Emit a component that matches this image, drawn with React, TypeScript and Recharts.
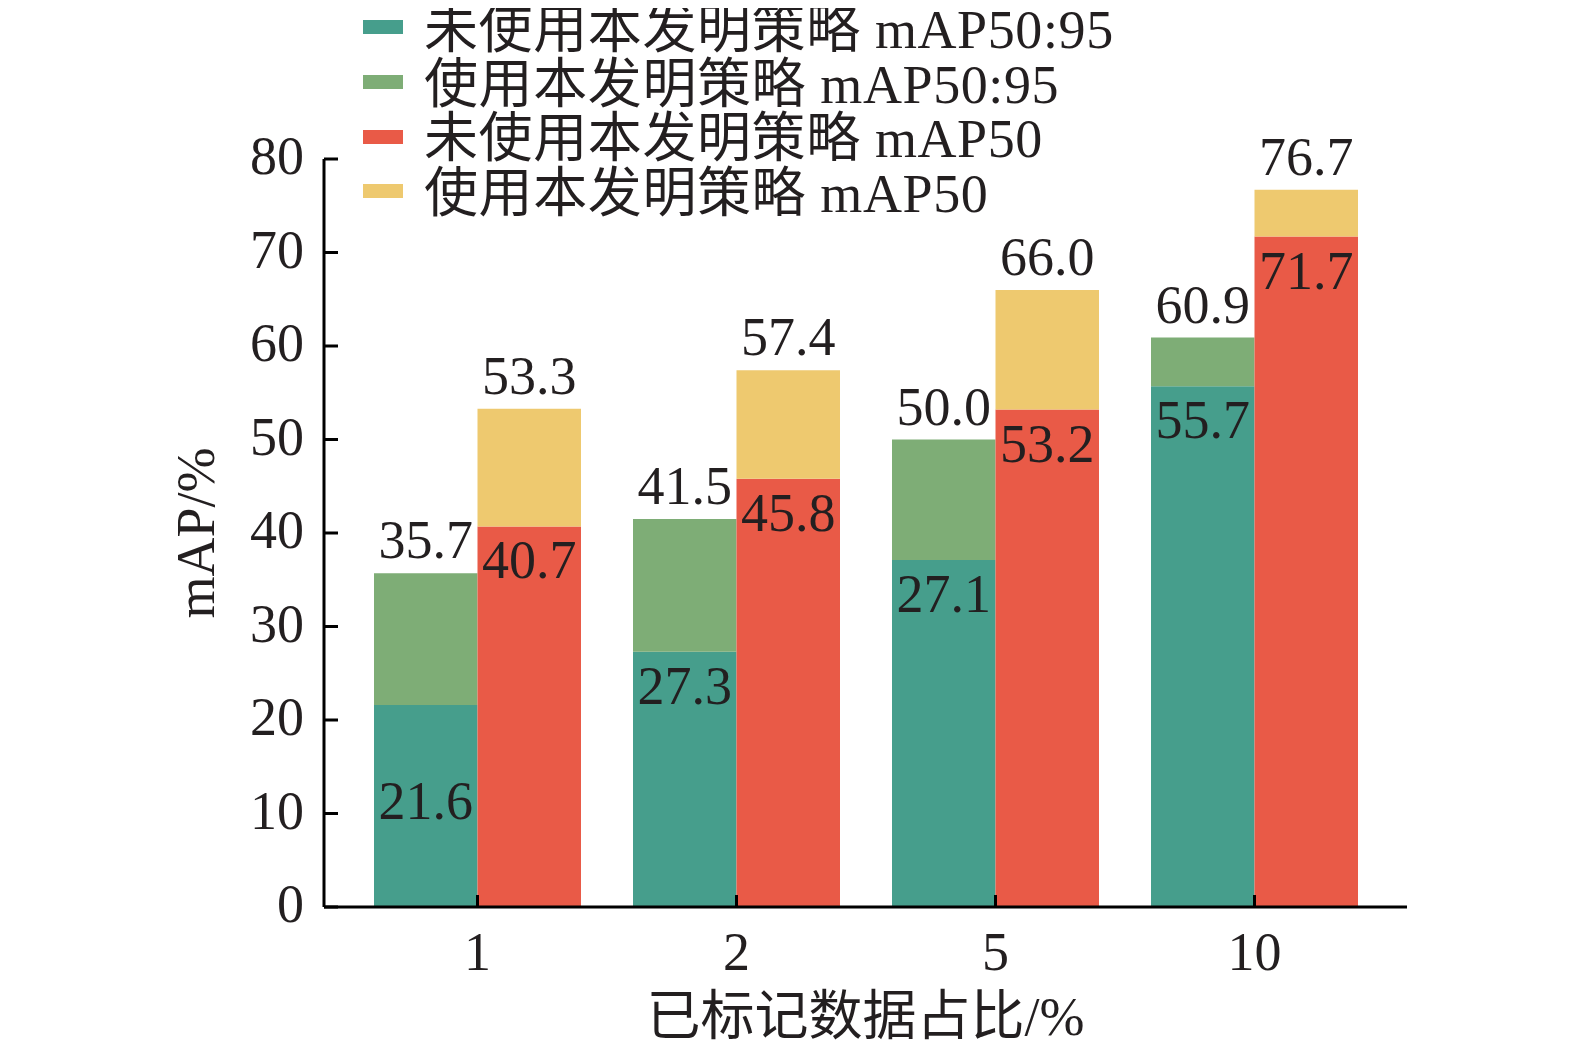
import React from 'react';
import { BarChart, Bar, XAxis, YAxis, Legend, LabelList, Label } from 'recharts';

const ratios = ['1', '2', '5', '10'];
const baseMap5095 = [21.6, 27.3, 37.1, 55.7];
// the source prints 27.1 on the 5% bar, although the bar itself stands at about 37
const baseMap5095Text = ['21.6', '27.3', '27.1', '55.7'];
const oursMap5095 = [35.7, 41.5, 50.0, 60.9];
const baseMap50 = [40.7, 45.8, 53.2, 71.7];
const oursMap50 = [53.3, 57.4, 66.0, 76.7];
const yTicks = [0, 10, 20, 30, 40, 50, 60, 70, 80];

const seriesNames = [
    '未使用本发明策略 mAP50:95',
    '使用本发明策略 mAP50:95',
    '未使用本发明策略 mAP50',
    '使用本发明策略 mAP50',
];
const seriesColors = ['#469E8C', '#7EAD76', '#E95A47', '#EEC96F'];

const FONT = "'Liberation Serif', 'Noto Sans CJK SC', serif";
const INK = '#231F20';
const FS = 54;

const rows = ratios.map((ratio, i) => ({
    ratio,
    base5095: baseMap5095[i],
    gain5095: +(oursMap5095[i] - baseMap5095[i]).toFixed(1),
    base50: baseMap50[i],
    gain50: +(oursMap50[i] - baseMap50[i]).toFixed(1),
    base5095Text: baseMap5095Text[i],
    ours5095: oursMap5095[i].toFixed(1),
    ours50: oursMap50[i].toFixed(1),
}));

// the 1% teal label sits much lower in the source than the others
const firstTealDrop = 62;

const insideLabel = (dropFirst: number) => (props: any) => {
    const vb = props.viewBox ?? props;
    const { x, y, width } = vb;
    const drop = props.index === 0 ? dropFirst : 0;
    return (
        <text x={x + width / 2} y={y + 52 + drop} textAnchor="middle" fontSize={FS} fontFamily={FONT} fill={INK}>
            {props.value}
        </text>
    );
};

const topLabel = (props: any) => {
    const vb = props.viewBox ?? props;
    const { x, y, width } = vb;
    return (
        <text x={x + width / 2} y={y - 15} textAnchor="middle" fontSize={FS} fontFamily={FONT} fill={INK}>
            {props.value}
        </text>
    );
};

const YTick = ({ x, y, payload }: any) => (
    <g>
        <line x1={x} x2={x + 14} y1={y} y2={y} stroke="#000" strokeWidth={3} />
        <text x={x - 20} y={y + 15} textAnchor="end" fontSize={FS} fontFamily={FONT} fill={INK}>
            {payload.value}
        </text>
    </g>
);

const XTick = ({ x, y, payload }: any) => (
    <g>
        <line x1={x} x2={x} y1={y} y2={y - 12} stroke="#000" strokeWidth={3} />
        <text x={x} y={y + 63} textAnchor="middle" fontSize={FS} fontFamily={FONT} fill={INK}>
            {payload.value}
        </text>
    </g>
);

const renderLegend = () => (
    <div style={{ fontFamily: FONT, fontSize: FS, color: INK, paddingTop: 3 }}>
        {seriesNames.map((name, i) => (
            <div key={name} style={{ display: 'flex', alignItems: 'center', height: 54.7, lineHeight: '54.7px', whiteSpace: 'nowrap' }}>
                <span style={{ display: 'inline-block', width: 40, height: 14, background: seriesColors[i], marginRight: 21, position: 'relative', top: -3 }} />
                <span style={{ letterSpacing: 0.6 }}>{name}</span>
            </div>
        ))}
    </div>
);

const yTitle = ({ viewBox }: any) => {
    const cx = viewBox.x + 30;
    const cy = viewBox.y + viewBox.height / 2;
    return (
        <text x={cx} y={cy} transform={`rotate(-90, ${cx}, ${cy})`} textAnchor="middle" fontSize={FS} fontFamily={FONT} fill={INK}>
            mAP/%
        </text>
    );
};

export default function App() {
    return (
        <div style={{ margin: -8, width: 1575, height: 1052, background: '#fff', overflow: 'hidden' }}>
            <BarChart
                width={1575}
                height={1052}
                data={rows}
                margin={{ top: 159, right: 168, bottom: 0, left: 184 }}
                barGap={0}
                barSize={103.5}
            >
                <XAxis
                    dataKey="ratio"
                    height={145}
                    padding={{ left: 24, right: 23 }}
                    axisLine={{ stroke: '#000', strokeWidth: 3 }}
                    tickLine={false}
                    tickSize={0}
                    tickMargin={0}
                    tick={<XTick />}
                    interval={0}
                >
                    <Label
                        value="已标记数据占比/%"
                        position="insideBottom"
                        offset={17}
                        style={{ fontSize: FS, fontFamily: FONT, fill: INK }}
                    />
                </XAxis>
                <YAxis
                    width={140}
                    domain={[0, 80]}
                    ticks={yTicks}
                    interval={0}
                    axisLine={{ stroke: '#000', strokeWidth: 3 }}
                    tickLine={false}
                    tickSize={0}
                    tickMargin={0}
                    tick={<YTick />}
                >
                    <Label content={yTitle} />
                </YAxis>
                <Legend
                    layout="horizontal"
                    verticalAlign="middle"
                    align="center"
                    wrapperStyle={{ top: 0, left: 363, width: 'auto' }}
                    content={renderLegend}
                />
                <Bar dataKey="base5095" name={seriesNames[0]} stackId="a" fill={seriesColors[0]} isAnimationActive={false}>
                    <LabelList dataKey="base5095Text" content={insideLabel(firstTealDrop)} />
                </Bar>
                <Bar dataKey="gain5095" name={seriesNames[1]} stackId="a" fill={seriesColors[1]} isAnimationActive={false}>
                    <LabelList dataKey="ours5095" content={topLabel} />
                </Bar>
                <Bar dataKey="base50" name={seriesNames[2]} stackId="b" fill={seriesColors[2]} isAnimationActive={false}>
                    <LabelList dataKey="base50" content={insideLabel(0)} />
                </Bar>
                <Bar dataKey="gain50" name={seriesNames[3]} stackId="b" fill={seriesColors[3]} isAnimationActive={false}>
                    <LabelList dataKey="ours50" content={topLabel} />
                </Bar>
            </BarChart>
        </div>
    );
}
